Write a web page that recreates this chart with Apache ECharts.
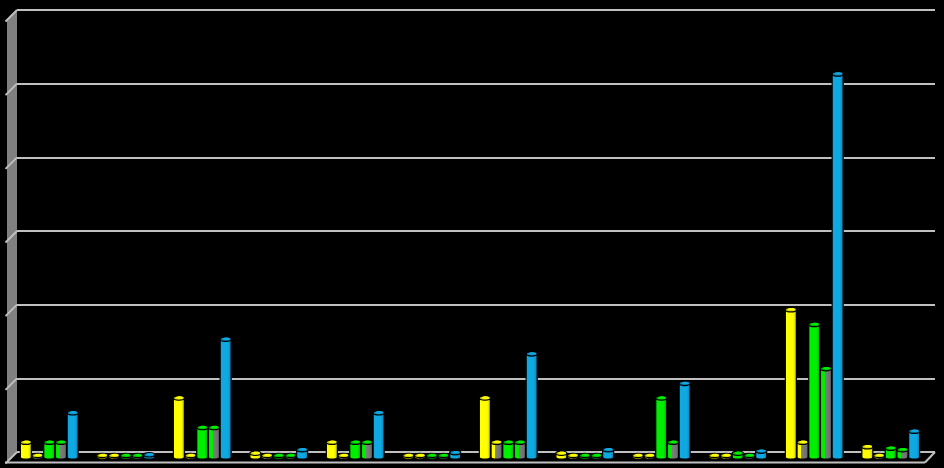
<!DOCTYPE html>
<html>
<head>
<meta charset="utf-8">
<script src="https://cdn.jsdelivr.net/npm/echarts@6/dist/echarts.min.js"></script>
<style>html,body{margin:0;padding:0;background:#000;}#c{width:944px;height:468px;}</style>
</head>
<body>
<div id="c"></div>
<script>
const categories = ['1','2','3','4','5','6','7','8','9','10','11','12'];
const seriesNames = ['S1','S2','S3','S4','S5'];
const yellow     = [2, 0, 8, 0.5, 2, 0, 8, 0.5, 0, 0, 20, 1.4];
const yellowGray = [0, 0, 0, 0, 0, 0, 2, 0, 0, 0, 2, 0.2];
const green      = [2, 0, 4, 0.2, 2, 0, 2, 0, 8, 0.5, 18, 1.2];
const greenGray  = [2, 0, 4, 0.2, 2, 0, 2, 0, 2, 0, 12, 1];
const blue       = [6, 0.3, 16, 1, 6, 0.6, 14, 1, 10, 0.8, 52, 3.5];
const yTicks = [0, 10, 20, 30, 40, 50, 60];

const seriesData = [yellow, yellowGray, green, greenGray, blue];
const mainColors = ['#ffff00', '#ffff00', '#00ee00', '#00ee00', '#10a8e0'];
const darkColors = ['#c8c800', '#c8c800', '#00b000', '#00b000', '#0a80b0'];
const halfGray   = [false, true, false, true, false];
const GRAY = '#808080';

function bodyFill(i) {
  if (halfGray[i]) {
    return {type:'linear', x:0, y:0, x2:1, y2:0, colorStops:[
      {offset:0, color:mainColors[i]}, {offset:0.4, color:mainColors[i]},
      {offset:0.4, color:GRAY}, {offset:1, color:'#6a6a6a'}]};
  }
  return {type:'linear', x:0, y:0, x2:1, y2:0, colorStops:[
    {offset:0, color:mainColors[i]}, {offset:0.7, color:mainColors[i]},
    {offset:1, color:darkColors[i]}]};
}

function makeRender(i) {
  return function (params, api) {
    const cat = api.value(0), v = api.value(1);
    const c = api.coord([cat, v]);
    const c0 = api.coord([cat, 0]);
    const w = 11;
    const step = 11.7;
    const cx = c[0] + (i - 2) * step - 6;
    const x = cx - w / 2;
    const dy = 5;
    const baseY = c0[1] + dy;
    let topY = c[1] + dy;
    if (baseY - topY < 1.5) topY = baseY - 1.5;
    const rx = w / 2, ry = 2.2;
    const fill = bodyFill(i);
    return {
      type: 'group',
      children: [
        {type:'ellipse', shape:{cx:cx, cy:baseY, rx:rx, ry:ry},
         style:{fill:fill, stroke:'#000', lineWidth:1.2}},
        {type:'rect', shape:{x:x, y:topY, width:w, height:baseY - topY},
         style:{fill:fill}},
        {type:'line', shape:{x1:x, y1:topY, x2:x, y2:baseY}, style:{stroke:'#000', lineWidth:1.2}},
        {type:'line', shape:{x1:x + w, y1:topY, x2:x + w, y2:baseY}, style:{stroke:'#000', lineWidth:1.2}},
        {type:'ellipse', shape:{cx:cx, cy:topY, rx:rx, ry:ry},
         style:{fill:darkColors[i], stroke:'#000', lineWidth:1.2}},
        {type:'ellipse', shape:{cx:cx + 0.8, cy:topY - 0.4, rx:rx - 1.6, ry:ry - 0.9},
         style:{fill:mainColors[i]}}
      ]
    };
  };
}

const chart = echarts.init(document.getElementById('c'), null, {renderer:'canvas'});
const option = {
  backgroundColor: '#000',
  animation: false,
  grid: {left: 17, right: 9, top: 10, bottom: 16},
  xAxis: {
    type: 'category', data: categories,
    axisLine:{show:false}, axisTick:{show:false}, axisLabel:{show:false}, splitLine:{show:false}
  },
  yAxis: {
    type: 'value', min: yTicks[0], max: yTicks[yTicks.length - 1], interval: 10,
    axisLine:{show:false}, axisTick:{show:false}, axisLabel:{show:false},
    splitLine:{show:true, lineStyle:{color:'#c0c0c0', width:2}}
  },
  series: seriesData.map((arr, i) => ({
    type: 'custom',
    name: seriesNames[i],
    renderItem: makeRender(i),
    encode: {x: 0, y: 1},
    clip: false,
    z: 5,
    data: arr.map((v, k) => [k, v])
  }))
};
chart.setOption(option);

// 3D wall / floor decorations based on axis pixel positions
const gridLeft = 17;
const depthX = 10, depthY = 10.5;
const yPix = yTicks.map(v => chart.convertToPixel({yAxisIndex:0}, v));
const xRight = 935;
const elements = [];
elements.push({
  type:'polygon', z:-1,
  shape:{points:[[gridLeft - depthX, yPix[yPix.length-1] + depthY], [gridLeft, yPix[yPix.length-1]],
                 [gridLeft, yPix[0]], [gridLeft - depthX, yPix[0] + depthY]]},
  style:{fill:'#808080'}
});
yPix.forEach(y => {
  elements.push({type:'line', z:0,
    shape:{x1:gridLeft - depthX - 1.5, y1:y + depthY + 1, x2:gridLeft, y2:y},
    style:{stroke:'#c0c0c0', lineWidth:2}});
});
elements.push({type:'line', z:0,
  shape:{x1:gridLeft - depthX - 2, y1:yPix[0] + depthY, x2:xRight - depthX, y2:yPix[0] + depthY},
  style:{stroke:'#c0c0c0', lineWidth:2}});
elements.push({type:'line', z:0,
  shape:{x1:xRight - depthX, y1:yPix[0] + depthY, x2:xRight, y2:yPix[0]},
  style:{stroke:'#c0c0c0', lineWidth:2}});
chart.setOption({graphic:{elements:elements}});
</script>
</body>
</html>
